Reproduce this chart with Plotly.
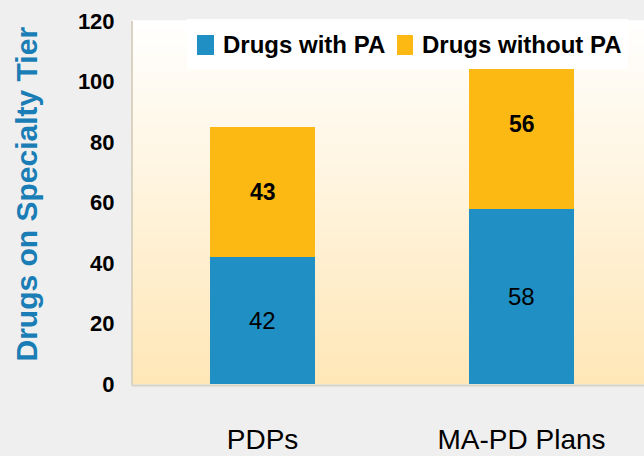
import plotly.graph_objects as go

categories = ["PDPs", "MA-PD Plans"]
with_pa = [42, 58]
without_pa_drawn = [43, 46]
without_pa_labels = [43, 56]
series_names = ["Drugs with PA", "Drugs without PA"]
y_ticks = [0, 20, 40, 60, 80, 100, 120]
y_title = "Drugs on Specialty Tier"

BLUE = "#1F8FC4"
GOLD = "#FDB913"
SANS = "Liberation Sans, Arial, sans-serif"

fig = go.Figure()
fig.add_trace(go.Bar(x=categories, y=with_pa, name=series_names[0],
                     marker=dict(color=BLUE, line=dict(width=0)), showlegend=False))
fig.add_trace(go.Bar(x=categories, y=without_pa_drawn, name=series_names[1],
                     marker=dict(color=GOLD, line=dict(width=0)), showlegend=False))

# value labels
for c, b, l in zip(categories, with_pa, without_pa_labels):
    fig.add_annotation(x=c, y=b / 2, text=str(b), showarrow=False,
                       font=dict(family=SANS, size=24, color="black"))
    fig.add_annotation(x=c, y=b + l / 2, text="<b>%d</b>" % l, showarrow=False,
                       font=dict(family=SANS, size=23, color="black"))

# gradient background (white -> light peach)
shapes = []
N = 90
top = (255, 255, 255)
bot = (255, 231, 183)
for i in range(N):
    t = (i + 0.5) / N
    col = tuple(round(top[k] + (bot[k] - top[k]) * t) for k in range(3))
    shapes.append(dict(type="rect", xref="x domain", yref="y domain",
                       x0=0, x1=1, y0=1 - (i + 1) / N, y1=1 - i / N + 0.002,
                       fillcolor="rgb(%d,%d,%d)" % col, line=dict(width=0), layer="below"))
# plot-area edge lines
shapes.append(dict(type="line", xref="paper", yref="paper", x0=0, x1=0, y0=-0.004, y1=1,
                   line=dict(color="#DAD3C2", width=2), layer="above"))
shapes.append(dict(type="line", xref="paper", yref="paper", x0=0, x1=1, y0=-0.004, y1=-0.004,
                   line=dict(color="#DAD3C2", width=2), layer="above"))
# manual legend box and swatches
shapes.append(dict(type="rect", xref="paper", yref="paper", x0=0.1074, x1=0.96875,
                   y0=0.8678, y1=1.0055, fillcolor="white", line=dict(width=0), layer="above"))
shapes.append(dict(type="rect", xref="paper", yref="paper", x0=0.1270, x1=0.1602,
                   y0=0.9063, y1=0.9614, fillcolor=BLUE, line=dict(width=0), layer="above"))
shapes.append(dict(type="rect", xref="paper", yref="paper", x0=0.5176, x1=0.5488,
                   y0=0.9063, y1=0.9614, fillcolor=GOLD, line=dict(width=0), layer="above"))

fig.add_annotation(xref="paper", yref="paper", x=0.1738, y=0.9339, xanchor="left",
                   yanchor="middle", text="<b>%s</b>" % series_names[0], showarrow=False,
                   font=dict(family=SANS, size=24, color="black"))
fig.add_annotation(xref="paper", yref="paper", x=0.5625, y=0.9339, xanchor="left",
                   yanchor="middle", text="<b>%s</b>" % series_names[1], showarrow=False,
                   font=dict(family=SANS, size=24, color="black"))

# y-axis title
fig.add_annotation(xref="paper", yref="paper", x=-0.2051, y=0.5248, textangle=-90,
                   xanchor="center", yanchor="middle", text="<b>%s</b>" % y_title,
                   showarrow=False, font=dict(family=SANS, size=30, color="#1A7DB5"))

fig.update_layout(
    barmode="stack",
    bargap=0.595,
    width=644, height=456,
    margin=dict(l=132, r=0, t=21, b=72),
    paper_bgcolor="#EFEFEF",
    plot_bgcolor="rgba(0,0,0,0)",
    shapes=shapes,
    showlegend=False,
    xaxis=dict(range=[-0.504, 1.473], showgrid=False, zeroline=False, showline=False,
               automargin=False, ticks="outside", ticklen=30, tickcolor="rgba(0,0,0,0)",
               tickfont=dict(family=SANS, size=28, color="black")),
    yaxis=dict(range=[0, 120], tickvals=y_ticks, ticktext=["<b>%d</b>" % v for v in y_ticks],
               showgrid=False, zeroline=False, showline=False, automargin=False,
               ticks="outside", ticklen=12, tickcolor="rgba(0,0,0,0)",
               tickfont=dict(family=SANS, size=22, color="black")),
)

fig.write_html("out.html", config={"displayModeBar": False},
               post_script="document.body.style.margin='0';document.body.style.padding='0';"
                           "document.body.style.background='#EFEFEF';")
